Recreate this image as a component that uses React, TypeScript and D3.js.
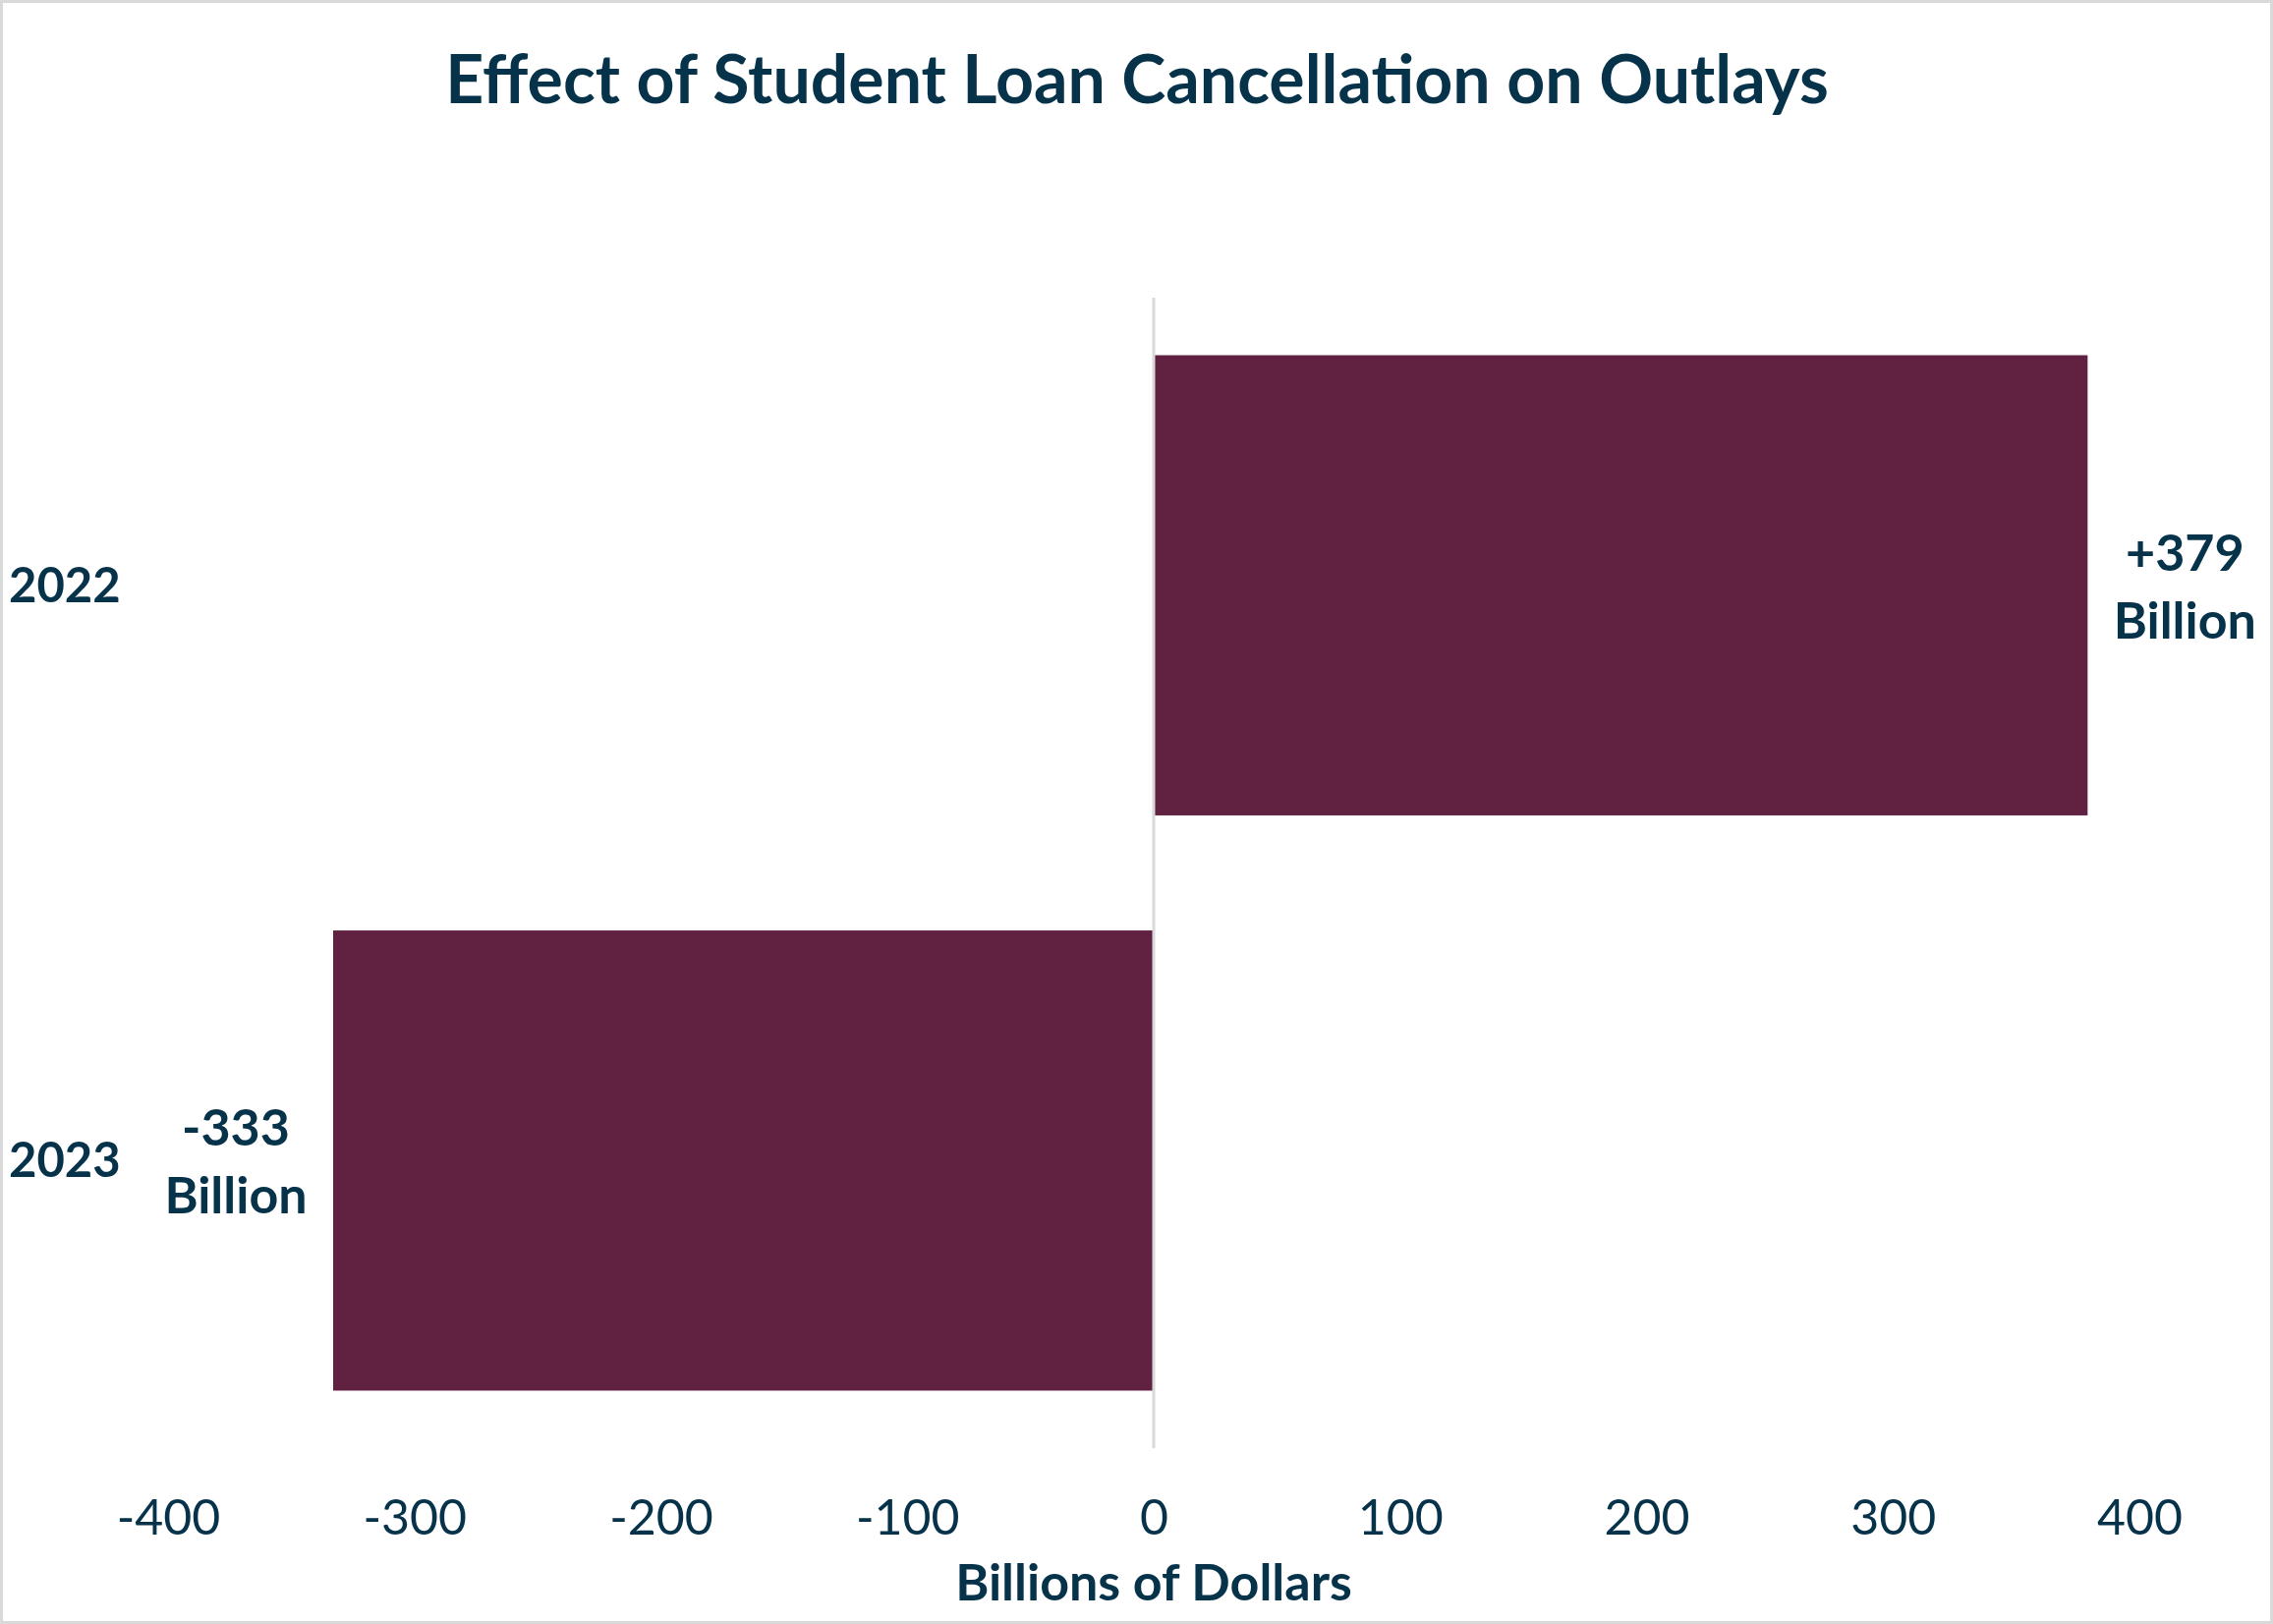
import React, { useEffect, useRef } from 'react';
import * as d3 from 'd3';

const years = ['2022', '2023'];
const outlays = [379, -333];
const labelLines = [['+379', 'Billion'], ['-333', 'Billion']];
const xTicks = [-400, -300, -200, -100, 0, 100, 200, 300, 400];

const W = 2313;
const H = 1653;
const NAVY = '#06324a';
const BAR = '#612141';
const FONT = 'Lato, "Open Sans", sans-serif';

export default function App() {
  const svgRef = useRef<SVGSVGElement>(null);

  useEffect(() => {
    if (!svgRef.current) return;
    document.body.style.margin = '0';

    const svg = d3.select(svgRef.current);
    svg.selectAll('*').remove();
    svg.attr('width', W).attr('height', H).style('display', 'block');

    // background + outer border
    svg.append('rect')
      .attr('x', 1.5)
      .attr('y', 1.5)
      .attr('width', W - 3)
      .attr('height', H - 3)
      .attr('fill', '#fff')
      .attr('stroke', '#d9d9d9')
      .attr('stroke-width', 3);

    const x = d3.scaleLinear().domain([-400, 400]).range([171, 2177]);
    const y = d3.scaleBand<string>()
      .domain(years)
      .range([303, 1474])
      .paddingInner(0.2)
      .paddingOuter(0.1);

    // title
    svg.append('text')
      .attr('x', 1157)
      .attr('y', 105)
      .attr('text-anchor', 'middle')
      .attr('font-family', FONT)
      .attr('font-weight', 700)
      .attr('font-size', 68)
      .attr('fill', NAVY)
      .text('Effect of Student Loan Cancellation on Outlays');

    // bars
    svg.selectAll('.bar')
      .data(years)
      .enter()
      .append('rect')
      .attr('class', 'bar')
      .attr('x', (_d, i) => x(Math.min(0, outlays[i])))
      .attr('y', d => y(d) || 0)
      .attr('width', (_d, i) => Math.abs(x(outlays[i]) - x(0)))
      .attr('height', y.bandwidth())
      .attr('fill', BAR);

    // zero line
    svg.append('line')
      .attr('x1', x(0))
      .attr('x2', x(0))
      .attr('y1', 303)
      .attr('y2', 1474)
      .attr('stroke', '#d9d9d9')
      .attr('stroke-width', 3);

    // x axis labels
    const axis = svg.append('g')
      .attr('transform', 'translate(0,1526)')
      .call(d3.axisBottom(x).tickValues(xTicks).tickSize(0).tickPadding(0).tickFormat(d => String(d)));
    axis.select('.domain').remove();
    axis.selectAll('text')
      .attr('dy', '0.71em')
      .attr('y', 0)
      .attr('font-family', FONT)
      .attr('font-size', 50)
      .attr('fill', NAVY);

    svg.append('text')
      .attr('x', x(0))
      .attr('y', 1629)
      .attr('text-anchor', 'middle')
      .attr('font-family', FONT)
      .attr('font-weight', 700)
      .attr('font-size', 52)
      .attr('fill', NAVY)
      .text('Billions of Dollars');

    // category labels
    svg.selectAll('.cat')
      .data(years)
      .enter()
      .append('text')
      .attr('class', 'cat')
      .attr('x', 9)
      .attr('y', d => (y(d) || 0) + y.bandwidth() / 2 + 17)
      .attr('font-family', FONT)
      .attr('font-weight', 700)
      .attr('font-size', 49)
      .attr('fill', NAVY)
      .text(d => d);

    // data labels
    const lbl = svg.selectAll('.lbl')
      .data(years)
      .enter()
      .append('text')
      .attr('class', 'lbl')
      .attr('text-anchor', 'middle')
      .attr('font-family', FONT)
      .attr('font-weight', 700)
      .attr('font-size', 52)
      .attr('fill', NAVY);

    lbl.each(function (d, i) {
      const cx = x(outlays[i]) + (outlays[i] >= 0 ? 99 : -99);
      const cy = (y(d) || 0) + y.bandwidth() / 2;
      labelLines[i].forEach((line, j) => {
        d3.select(this)
          .append('tspan')
          .attr('x', cx)
          .attr('y', cy - 15 + j * 69)
          .text(line);
      });
    });
  }, []);

  return <svg ref={svgRef}></svg>;
}
